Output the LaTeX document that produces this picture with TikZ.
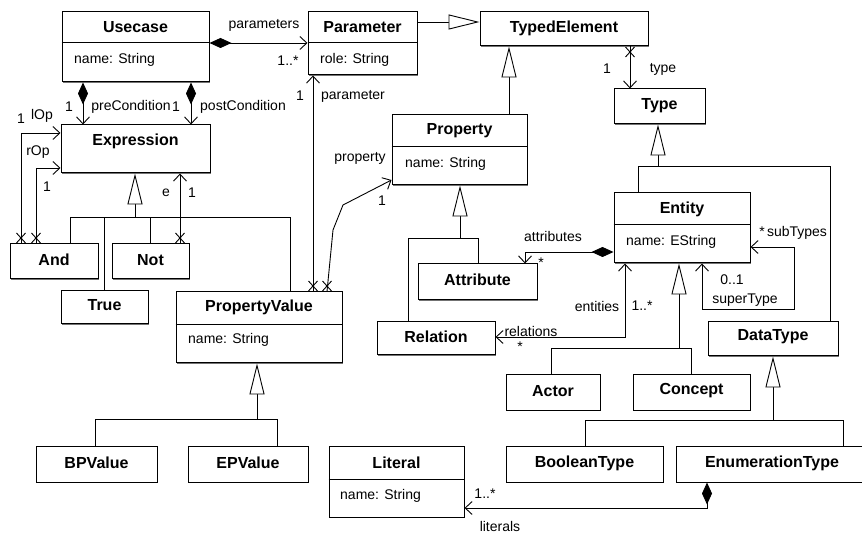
\documentclass[tikz,border=0pt]{standalone}
\usepackage{fontspec}
\setmainfont{Liberation Sans}
\usetikzlibrary{arrows.meta,fit,shadows}
\begin{document}
\begin{tikzpicture}[x=1pt,y=-1pt,
  classbox/.style={draw,line width=1pt,fill=white,inner sep=0pt,
    drop shadow={shadow xshift=1.3pt,shadow yshift=-1.3pt,fill=black!55,opacity=1}},
  ctitle/.style={font=\fontsize{16}{18}\selectfont\bfseries,inner sep=0pt},
  cattr/.style={font=\fontsize{14}{16}\selectfont,inner sep=0pt,anchor=west},
  lbl/.style={font=\fontsize{14}{16}\selectfont,inner sep=0pt},
  link/.style={line width=0.9pt},
  nav/.style={-{Straight Barb[length=7pt,width=13pt,line width=0.9pt]}},
  bothnav/.style={{Straight Barb[length=7pt,width=13pt,line width=0.9pt]}-{Straight Barb[length=7pt,width=13pt,line width=0.9pt]}},
  comp/.style={{Diamond[length=22pt,width=10pt]}-{Straight Barb[length=7pt,width=13pt,line width=0.9pt]}},
  gen/.style={-{Triangle[open,length=31pt,width=15pt,fill=white,line width=0.9pt]}},
  xmark/.pic={\draw[line width=0.9pt] (-4.5,-5) -- (4.5,5) (-4.5,5) -- (4.5,-5);}
]
\useasboundingbox (0,0) rectangle (862,534);
\clip (0,0) rectangle (862,534);

% ---------- classes ----------
\node[classbox,fit={(62,12) (209,82)}] (usecase) {};
\node[classbox,fit={(308,12) (417,75)}] (parameter) {};
\node[classbox,fit={(480,12) (648,46)}] (typedel) {};
\node[classbox,fit={(614,89) (705,124)}] (type) {};
\node[classbox,fit={(61,125) (210,173)}] (expression) {};
\node[classbox,fit={(392,115) (527,185)}] (property) {};
\node[classbox,fit={(614,193) (750,263)}] (entity) {};
\node[classbox,fit={(418,264) (537,300)}] (attribute) {};
\node[classbox,fit={(377,322) (495,355)}] (relation) {};
\node[classbox,fit={(10,244) (98,279)}] (and) {};
\node[classbox,fit={(112,244) (189,279)}] (not) {};
\node[classbox,fit={(61,291) (148,324)}] (true) {};
\node[classbox,fit={(176,292) (342,363)}] (propvalue) {};
\node[classbox,fit={(36,446) (157,482)}] (bpvalue) {};
\node[classbox,fit={(188,446) (308,482)}] (epvalue) {};
\node[classbox,fit={(329,446) (464,517)}] (literal) {};
\node[classbox,fit={(506,375) (600,410)}] (actor) {};
\node[classbox,fit={(633,375) (750,410)}] (concept) {};
\node[classbox,fit={(708,322) (838,356)}] (datatype) {};
\node[classbox,fit={(506,446) (663,482)}] (booltype) {};
\node[classbox,fit={(676,446) (868,482)}] (enumtype) {};

% compartment dividers
\draw[line width=1pt] (usecase.west |- 0,43) -- (usecase.east |- 0,43);
\draw[line width=1pt] (parameter.west |- 0,43) -- (parameter.east |- 0,43);
\draw[line width=1pt] (property.west |- 0,147) -- (property.east |- 0,147);
\draw[line width=1pt] (entity.west |- 0,225) -- (entity.east |- 0,225);
\draw[line width=1pt] (propvalue.west |- 0,325) -- (propvalue.east |- 0,325);
\draw[line width=1pt] (literal.west |- 0,479) -- (literal.east |- 0,479);

% class names
\node[ctitle] (usecase-t) at (usecase.north |- 0,27) {Usecase};
\node[ctitle] (parameter-t) at (parameter.north |- 0,27) {Parameter};
\node[ctitle] (typedel-t) at (typedel.north |- 0,28) {TypedElement};
\node[ctitle] (type-t) at (type.north |- 0,106) {Type};
\node[ctitle] (expression-t) at (expression.north |- 0,141) {Expression};
\node[ctitle] (property-t) at (property.north |- 0,131) {Property};
\node[ctitle] (entity-t) at (entity.north |- 0,209) {Entity};
\node[ctitle] (attribute-t) at (attribute.north |- 0,280) {Attribute};
\node[ctitle] (relation-t) at (relation.north |- 0,337) {Relation};
\node[ctitle] (and-t) at (and.north |- 0,260) {And};
\node[ctitle] (not-t) at (not.north |- 0,260) {Not};
\node[ctitle] (true-t) at (true.north |- 0,305) {True};
\node[ctitle] (propvalue-t) at (propvalue.north |- 0,307) {PropertyValue};
\node[ctitle] (bpvalue-t) at (bpvalue.north |- 0,463) {BPValue};
\node[ctitle] (epvalue-t) at (epvalue.north |- 0,463) {EPValue};
\node[ctitle] (literal-t) at (literal.north |- 0,463) {Literal};
\node[ctitle] (actor-t) at (actor.north |- 0,391) {Actor};
\node[ctitle] (concept-t) at (concept.north |- 0,391) {Concept};
\node[ctitle] (datatype-t) at (datatype.north |- 0,337) {DataType};
\node[ctitle] (booltype-t) at (booltype.north |- 0,463) {BooleanType};
\node[ctitle] (enumtype-t) at (772,463) {EnumerationType};

% attributes
\node[cattr] (usecase-a) at (74,60) {name: String};
\node[cattr] (parameter-a) at (320,60) {role: String};
\node[cattr] (property-a) at (405,164) {name: String};
\node[cattr] (entity-a) at (626,242) {name: EString};
\node[cattr] (propvalue-a) at (188,340) {name: String};
\node[cattr] (literal-a) at (340,496) {name: String};

% ---------- generalizations ----------
\draw[link,gen] (parameter.east |- 0,22) -- (typedel.west |- 0,22);
\draw[link,gen] (property.north -| 509,0) -- (typedel.south -| 509,0);

\draw[link] (entity.north -| 638,0) -- (638,166) -- (830,166) -- (datatype.north -| 830,0);
\draw[link,gen] (658,166) -- (type.south -| 658,0);

\draw[link] (relation.north -| 408,0) -- (408,238) -- (478,238) -- (attribute.north -| 478,0);
\draw[link,gen] (460,238) -- (property.south -| 460,0);

\draw[link] (actor.north -| 551,0) -- (551,348) -- (691,348) -- (concept.north -| 691,0);
\draw[link,gen] (679,348) -- (entity.south -| 679,0);

\draw[link] (booltype.north -| 585,0) -- (585,420) -- (843,420) -- (enumtype.north -| 843,0);
\draw[link,gen] (773,420) -- (datatype.south -| 773,0);

\draw[link] (bpvalue.north -| 95,0) -- (95,419) -- (277,419) -- (epvalue.north -| 277,0);
\draw[link,gen] (257,419) -- (propvalue.south -| 257,0);

\draw[link] (and.north -| 70,0) -- (70,217) -- (290,217) -- (propvalue.north -| 290,0);
\draw[link] (true.north -| 104,0) -- (104,217);
\draw[link] (not.north -| 150,0) -- (150,217);
\draw[link,gen] (135,217) -- (expression.south -| 135,0);

% ---------- associations ----------
% parameters
\draw[link,comp] (usecase.east |- 0,43) -- (parameter.west |- 0,43);
\node[lbl] (l-parameters) at (264,25) {parameters};
\node[lbl] (l-parameters-m) at (288,61) {1..*};

% pre/post conditions
\draw[link,comp] (usecase.south -| 83,0) -- (expression.north -| 83,0);
\draw[link,comp] (usecase.south -| 191,0) -- (expression.north -| 191,0);
\node[lbl] (l-pre-m) at (69,107) {1};
\node[lbl] (l-pre) at (131,107) {preCondition};
\node[lbl] (l-post-m) at (176,107) {1};
\node[lbl] (l-post) at (243,107) {postCondition};

% lOp / rOp
\draw[link,nav] (and.north -| 21,0) -- (21,133) -- (expression.west |- 0,133);
\draw[link,nav] (and.north -| 36,0) -- (36,168) -- (expression.west |- 0,168);
\pic at (21,238) {xmark};
\pic at (36,238) {xmark};
\node[lbl] (l-lop-m) at (21,119) {1};
\node[lbl] (l-lop) at (42,116) {lOp};
\node[lbl] (l-rop) at (38,152) {rOp};
\node[lbl] (l-rop-m) at (47,187) {1};

% e
\draw[link,nav] (not.north -| 180,0) -- (expression.south -| 180,0);
\pic at (180,238) {xmark};
\node[lbl] (l-e) at (166,193) {e};
\node[lbl] (l-e-m) at (192,193) {1};

% type
\draw[link,nav] (typedel.south -| 630,0) -- (type.north -| 630,0);
\pic at (630,52) {xmark};
\node[lbl] (l-type-m) at (607,69) {1};
\node[lbl] (l-type) at (663,69) {type};

% parameter
\draw[link,nav] (propvalue.north -| 313,0) -- (parameter.south -| 313,0);
\pic at (313,286) {xmark};
\node[lbl] (l-param-m) at (300,96) {1};
\node[lbl] (l-param) at (353,96) {parameter};

% property
\draw[link,nav] (propvalue.north -| 327,0) -- (333,230) -- (343,205) -- (property.west |- 0,180);
\pic at (327,286) {xmark};
\node[lbl] (l-prop) at (360,158) {property};
\node[lbl] (l-prop-m) at (382,201) {1};

% attributes
\draw[link,comp] (entity.west |- 0,252) -- (525,252) -- (attribute.north -| 525,0);
\node[lbl] (l-attr) at (553,236) {attributes};
\node[lbl] (l-attr-m) at (541,263) {*};

% relations / entities
\draw[link,bothnav] (relation.east |- 0,337) -- (625,337) -- (entity.south -| 625,0);
\node[lbl] (l-rel) at (531,331) {relations};
\node[lbl] (l-rel-m) at (520,347) {*};
\node[lbl] (l-ent) at (597,306) {entities};
\node[lbl] (l-ent-m) at (642,306) {1..*};

% superType / subTypes
\draw[link,bothnav] (entity.south -| 702,0) -- (702,309) -- (794,309) -- (794,247) -- (entity.east |- 0,247);
\node[lbl] (l-sub-m) at (762,232) {*};
\node[lbl] (l-sub) at (797,233) {subTypes};
\node[lbl] (l-sup-m) at (732,280) {0..1};
\node[lbl] (l-sup) at (745,300) {superType};

% literals
\draw[link,comp] (enumtype.south -| 707,0) -- (707,508) -- (literal.east |- 0,508);
\node[lbl] (l-lit-m) at (485,494) {1..*};
\node[lbl] (l-lit) at (500,526) {literals};
\end{tikzpicture}
\end{document}
